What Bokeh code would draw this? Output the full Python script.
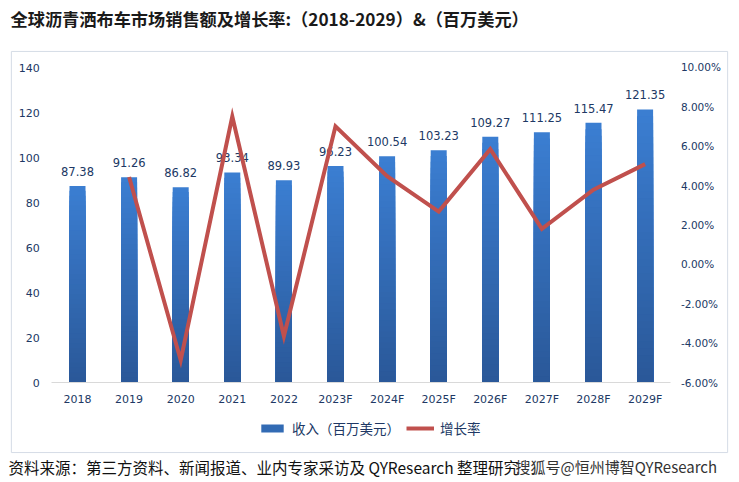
from bokeh.plotting import figure
from bokeh.models import (Range1d, LinearAxis, ColumnDataSource, Legend,
                          LegendItem, Label, FixedTicker)
from bokeh.embed import file_html
from bokeh.resources import INLINE
from bokeh.core.properties import value

# ---------------- data ----------------
years = ["2018", "2019", "2020", "2021", "2022", "2023F", "2024F", "2025F",
         "2026F", "2027F", "2028F", "2029F"]
revenue = [87.38, 91.26, 86.82, 93.34, 89.93, 96.23, 100.54, 103.23,
           109.27, 111.25, 115.47, 121.35]
growth = [None, 4.44, -4.87, 7.51, -3.65, 7.01, 4.48, 2.68, 5.85, 1.81, 3.79, 5.09]
left_ticks = [0, 20, 40, 60, 80, 100, 120, 140]
right_ticks = [-6, -4, -2, 0, 2, 4, 6, 8, 10]
right_tick_labels = ["-6.00%", "-4.00%", "-2.00%", "0.00%", "2.00%", "4.00%",
                     "6.00%", "8.00%", "10.00%"]
title_text = "全球沥青洒布车市场销售额及增长率:（2018-2029）&（百万美元）"
bar_name = "收入（百万美元）"
line_name = "增长率"
source_text = "资料来源：第三方资料、新闻报道、业内专家采访及 QYResearch 整理研究"
stamp_text = "搜狐号@恒州博智QYResearch"

# category positions on the x scale
xpos = list(range(len(years)))
gx = [x for x, g in zip(xpos, growth) if g is not None]
gy = [g for g in growth if g is not None]

# ---------------- styling ----------------
TXT = "#203864"
FONT = "DejaVu Sans"
CJK = "Noto Sans CJK SC"
top_rgb = (0x3b, 0x7e, 0xd2)
bot_rgb = (0x2a, 0x58, 0x98)
NSLICE = 40

def mix(t):
    r = [int(round(b + (a - b) * t)) for a, b in zip(top_rgb, bot_rgb)]
    return "#%02x%02x%02x" % tuple(r)

# gradient bars: overlapping columns from 0, tallest (lightest) drawn first
sx, st, sc = [], [], []
for k in range(NSLICE - 1, -1, -1):
    for x, v in zip(xpos, revenue):
        sx.append(x)
        st.append(v * (k + 1) / NSLICE)
        sc.append(mix((k + 0.5) / NSLICE))
slices = ColumnDataSource(dict(x=sx, top=st, color=sc))

W, H = 739, 482
p = figure(width=W, height=H, x_range=Range1d(-1.4922, 12.8295),
           y_range=Range1d(-44.444, 169.778), output_backend="svg",
           toolbar_location=None, min_border=0)
p.extra_y_ranges = {"growth": Range1d(-11.079, 13.403)}
p.background_fill_color = "white"
p.border_fill_color = "white"
p.outline_line_color = None
p.xgrid.grid_line_color = None
p.ygrid.grid_line_color = None

# chart border box (an empty padded label)
p.add_layout(Label(x=369, y=230.5, x_units="screen", y_units="screen", text=" ",
                   text_font_size="1px", text_align="center", text_baseline="middle",
                   padding=dict(left=358, right=358, top=200, bottom=200),
                   border_line_color="#d5dce6", border_line_width=1,
                   background_fill_color=None, level="underlay"))

bars = p.vbar(x="x", bottom=0, top="top", width=0.31, source=slices,
              fill_color="color", line_color=None)

# value labels
p.text(x=xpos, y=revenue, text=[f"{v:.2f}" for v in revenue], y_offset=-10,
       text_align="center", text_baseline="bottom", text_color=TXT,
       text_font=value(FONT), text_font_size="11.5px")

# growth line
ln = p.line(x=gx, y=gy, y_range_name="growth", line_color="#c0504d",
            line_width=4, line_join="miter")

# axes (fixed inside the frame)
ax = p.xaxis[0]
ax.fixed_location = 0
ax.bounds = (-0.5, len(years) - 0.5)
ax.ticker = FixedTicker(ticks=xpos)
ax.major_label_overrides = {x: y for x, y in zip(xpos, years)}
ax.axis_line_color = "#d9d9d9"
ax.major_tick_line_color = None
ax.minor_tick_line_color = None
ax.major_label_standoff = 4
ax.major_label_text_color = TXT
ax.major_label_text_font = FONT
ax.major_label_text_font_size = "11px"

ay = p.yaxis[0]
ay.fixed_location = -0.5
ay.bounds = (left_ticks[0], left_ticks[-1])
ay.ticker = FixedTicker(ticks=left_ticks)
ay.axis_line_color = None
ay.major_tick_line_color = None
ay.minor_tick_line_color = None
ay.major_label_standoff = 6
ay.major_label_text_color = TXT
ay.major_label_text_font = FONT
ay.major_label_text_font_size = "11px"

ry = LinearAxis(y_range_name="growth", ticker=FixedTicker(ticks=right_ticks),
                fixed_location=len(years) - 0.5,
                bounds=(right_ticks[0], right_ticks[-1]))
ry.major_label_overrides = {t: l for t, l in zip(right_ticks, right_tick_labels)}
ry.axis_line_color = None
ry.major_tick_line_color = None
ry.minor_tick_line_color = None
ry.major_label_standoff = 4
ry.major_label_text_color = TXT
ry.major_label_text_font = FONT
ry.major_label_text_font_size = "10.5px"
p.add_layout(ry, "right")

# legend
legend = Legend(items=[LegendItem(label=bar_name, renderers=[bars], index=NSLICE * len(years) // 2),
                       LegendItem(label=line_name, renderers=[ln])],
                orientation="horizontal", location=(258, 44),
                label_text_font=CJK, label_text_font_size="13.5px",
                label_text_color=TXT, glyph_width=28, glyph_height=10,
                border_line_color=None, background_fill_alpha=0,
                spacing=6, label_standoff=6, margin=0, padding=4)
p.add_layout(legend, "center")

# title and footer
p.add_layout(Label(x=10, y=H - 18, x_units="screen", y_units="screen", text=title_text,
                   text_baseline="middle", text_font=CJK, text_font_size="17.2px",
                   text_font_style="bold", text_color="#1a1a1a"))
p.add_layout(Label(x=8, y=H - 466, x_units="screen", y_units="screen", text=source_text,
                   text_baseline="middle", text_font=CJK, text_font_size="15.5px",
                   text_color="#111111"))
p.add_layout(Label(x=515, y=H - 466, x_units="screen", y_units="screen", text=stamp_text,
                   text_baseline="middle", text_font=CJK, text_font_size="15px",
                   text_color="#333333"))

open("out.html", "w").write(file_html(p, INLINE))
